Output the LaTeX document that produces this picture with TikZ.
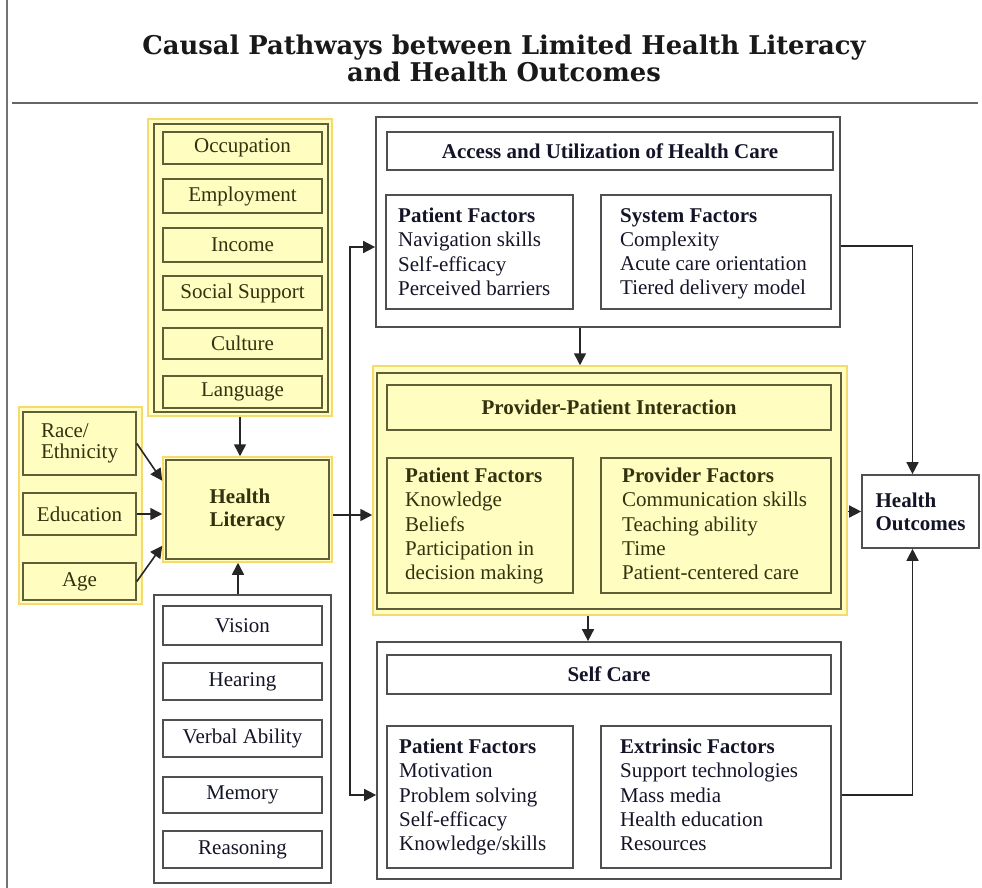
\documentclass[tikz,border=0pt]{standalone}
\usepackage{fontspec}
\setmainfont{Liberation Serif}
\newfontfamily\ttlfont{DejaVu Serif}
\usetikzlibrary{fit,calc,arrows.meta}
\definecolor{yfill}{RGB}{255,253,192}
\definecolor{yedge}{RGB}{245,218,110}
\definecolor{oedge}{RGB}{95,95,55}
\definecolor{otext}{RGB}{50,50,15}
\definecolor{gedge}{RGB}{80,80,80}
\definecolor{ktext}{RGB}{20,20,40}
\tikzset{
  txt/.style={font=\fontsize{21}{24}\selectfont},
  btxt/.style={font=\bfseries\fontsize{21}{24}\selectfont},
  ygroup/.style={draw=yedge, line width=1.5pt, fill=yfill, inner sep=0pt},
  yinner/.style={draw=oedge, line width=1.5pt, inner sep=0pt},
  yitem/.style={draw=oedge, line width=1.6pt, fill=yfill, inner sep=0pt},
  witem/.style={draw=gedge, line width=1.7pt, fill=white, inner sep=0pt},
  wgroup/.style={draw=gedge, line width=1.7pt, fill=white, inner sep=0pt},
  ylab/.style={label={[txt, text=otext, inner sep=0pt]center:#1}},
  wlab/.style={label={[txt, text=ktext, inner sep=0pt]center:#1}},
  ybold/.style={label={[btxt, text=otext, inner sep=0pt]center:#1}},
  wbold/.style={label={[btxt, text=ktext, inner sep=0pt]center:#1}},
  listtxt/.style={anchor=north west, align=left, inner sep=0pt, font=\fontsize{21}{24.2}\selectfont},
  arr/.style={-{Triangle[length=12pt,width=12pt]}, line width=1.6pt, draw=black!85},
}
\begin{document}
\begin{tikzpicture}[x=1pt,y=-1pt]
\useasboundingbox (0,0) rectangle (982,888);
\fill[white] (0,0) rectangle (982,888);
\draw[black!55, line width=1.5pt] (7,0) -- (7,888);
\draw[black!60, line width=2.6pt] (12,103) -- (978,103);
\node[align=center, font=\ttlfont\bfseries\fontsize{25.8}{27}\selectfont, text=black!90] (title) at (504,58) {Causal Pathways between Limited Health Literacy\\and Health Outcomes};

% upper yellow group
\node[ygroup, fit={(148,119) (332,416)}] (ugrp) {};
\node[yinner, fit={(154,124) (328,412)}] (ugrpin) {};
\node[yitem, ylab=Occupation, fit={(163,132) (322,164)}] (occ) {};
\node[yitem, ylab=Employment, fit={(163,179) (322,213)}] (emp) {};
\node[yitem, ylab=Income, fit={(163,228) (322,262)}] (inc) {};
\node[yitem, ylab=Social Support, fit={(163,276) (322,310)}] (soc) {};
\node[yitem, ylab=Culture, fit={(163,328) (322,359)}] (cul) {};
\node[yitem, ylab=Language, fit={(163,376) (322,408)}] (lang) {};

% left yellow group
\node[ygroup, fit={(19,407) (142,604)}] (lgrp) {};
\node[yitem, fit={(23,412) (136,475)}] (race) {};
\node[align=left, text=otext, inner sep=0pt, font=\fontsize{21}{21}\selectfont] (racet) at (race.center) {Race/\\Ethnicity};
\node[yitem, ylab=Education, fit={(23,493) (136,535)}] (edu) {};
\node[yitem, ylab=Age, fit={(23,563) (136,600)}] (age) {};

% health literacy
\node[ygroup, fit={(163,457) (332,562)}] (hl) {};
\node[yinner, fit={(166,460) (329,559)}] (hlin) {};
\node[align=left, text=otext, inner sep=0pt, font=\bfseries\fontsize{21}{23}\selectfont] (hlt) at (hl.center) {Health\\Literacy};

% cognitive group
\node[wgroup, fit={(154,595) (331,883)}] (cog) {};
\node[witem, wlab=Vision, fit={(163,606) (322,645)}] (vis) {};
\node[witem, wlab=Hearing, fit={(163,663) (322,700)}] (hear) {};
\node[witem, wlab=Verbal Ability, fit={(163,720) (322,757)}] (verb) {};
\node[witem, wlab=Memory, fit={(163,777) (322,813)}] (mem) {};
\node[witem, wlab=Reasoning, fit={(163,831) (322,868)}] (reas) {};

% access
\node[wgroup, fit={(376,117) (840,327)}] (access) {};
\node[witem, wbold=Access and Utilization of Health Care, fit={(387,132) (833,170)}] (acct) {};
\node[witem, fit={(386,195) (573,309)}] (apf) {};
\node[witem, fit={(601,195) (831,309)}] (asf) {};
\node[listtxt, text=ktext] (apft) at (398,208) {\textbf{Patient Factors}\\Navigation skills\\Self-efficacy\\Perceived barriers};
\node[listtxt, text=ktext] (asft) at (620,208) {\textbf{System Factors}\\Complexity\\Acute care orientation\\Tiered delivery model};

% provider-patient
\node[ygroup, fit={(373,366) (847,615)}] (prov) {};
\node[yinner, fit={(377,373) (841,609)}] (provin) {};
\node[yitem, ybold=Provider-Patient Interaction, fit={(387,385) (831,430)}] (provt) {};
\node[yitem, fit={(387,458) (573,593)}] (ppf) {};
\node[yitem, fit={(601,458) (831,593)}] (pvf) {};
\node[listtxt, text=otext] (ppft) at (405,468) {\textbf{Patient Factors}\\Knowledge\\Beliefs\\Participation in\\decision making};
\node[listtxt, text=otext] (pvft) at (622,468) {\textbf{Provider Factors}\\Communication skills\\Teaching ability\\Time\\Patient-centered care};

% self care
\node[wgroup, fit={(377,642) (841,879)}] (sc) {};
\node[witem, wbold=Self Care, fit={(387,655) (831,694)}] (sct) {};
\node[witem, fit={(387,726) (573,868)}] (spf) {};
\node[witem, fit={(601,726) (831,868)}] (sef) {};
\node[listtxt, text=ktext] (spft) at (399,739) {\textbf{Patient Factors}\\Motivation\\Problem solving\\Self-efficacy\\Knowledge/skills};
\node[listtxt, text=ktext] (seft) at (620,739) {\textbf{Extrinsic Factors}\\Support technologies\\Mass media\\Health education\\Resources};

% health outcomes
\node[witem, fit={(862,475) (979,548)}] (ho) {};
\node[align=left, text=ktext, inner sep=0pt, font=\bfseries\fontsize{21}{23}\selectfont] (hot) at (ho.center) {Health\\Outcomes};

% connectors
\coordinate (cx) at (238,0);
\draw[arr] (ugrp.south) -- (ugrp.south |- hl.north);
\draw[arr] (cog.north -| cx) -- (hl.south -| cx);
\draw[arr] (race.east) -- ($(hl.north west)!0.23!(hl.south west)$);
\draw[arr] (edu.east) -- (edu.east -| hl.west);
\draw[arr] (age.east) -- ($(hl.north west)!0.84!(hl.south west)$);
\coordinate (j) at (350,515);
\draw[arr] (hl.east |- j) -- (prov.west |- j);
\coordinate (aIn) at ($(access.west)+(0,25)$);
\coordinate (sIn) at ($(sc.west)+(0,34.5)$);
\draw[arr] (j) |- (aIn);
\draw[arr] (j) |- (sIn);
\draw[arr] ($(access.south)+(-28,0)$) coordinate (t1) -- (t1 |- prov.north);
\draw[arr] ($(prov.south)+(-22,0)$) coordinate (t2) -- (t2 |- sc.north);
\draw[arr] (prov.east |- ho.west) -- (ho.west);
\coordinate (hoN) at ($(ho.north)+(-8,0)$);
\coordinate (hoS) at ($(ho.south)+(-8,0)$);
\draw[arr] ($(access.east)+(0,24)$) -| (hoN);
\draw[arr] ($(sc.east)+(0,34.5)$) -| (hoS);
\end{tikzpicture}
\end{document}
